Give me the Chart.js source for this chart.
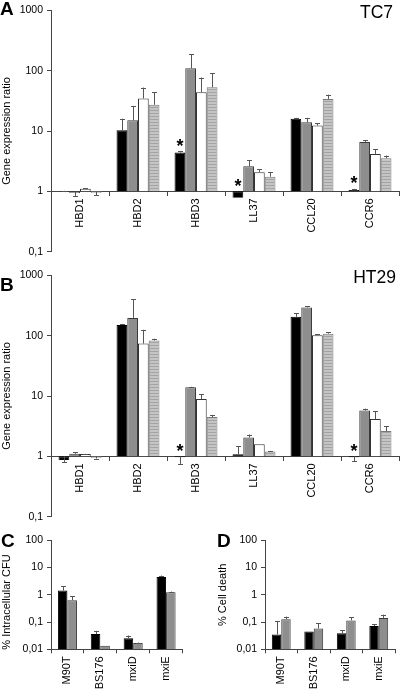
<!DOCTYPE html>
<html><head><meta charset="utf-8">
<script src="https://cdn.jsdelivr.net/npm/chart.js@4.4.0/dist/chart.umd.min.js"></script>
<style>
html,body{margin:0;padding:0;background:#fff;width:400px;height:692px;overflow:hidden;font-family:"Liberation Sans",Arial,sans-serif;}
canvas{position:absolute;display:block;}
.t{position:absolute;line-height:1;white-space:nowrap;color:#000;}
.pl{font-weight:bold;font-size:19px;}
.cl{font-size:17.5px;}
.yt{position:absolute;width:120px;height:12px;line-height:12px;font-size:11px;text-align:center;white-space:nowrap;color:#000;transform:rotate(-90deg);transform-origin:50% 50%;}
</style></head><body>
<canvas id="cA" width="400" height="262" style="left:0;top:0"></canvas>
<canvas id="cB" width="400" height="262" style="left:0;top:265px"></canvas>
<canvas id="cC" width="200" height="162" style="left:0;top:530px"></canvas>
<canvas id="cD" width="200" height="162" style="left:200px;top:530px"></canvas>
<div class="t pl" style="left:0;top:-1px">A</div>
<div class="t cl" style="right:7px;top:3.5px">TC7</div>
<div class="t pl" style="left:0;top:275px">B</div>
<div class="t cl" style="right:4px;top:269px">HT29</div>
<div class="t pl" style="left:1px;top:530.5px">C</div>
<div class="t pl" style="left:217px;top:530.5px">D</div>
<div class="yt" id="cTitle" style="left:-54px;top:596px"></div>
<script>
// ---------- data ----------
const genes = ['HBD1','HBD2','HBD3','LL37','CCL20','CCR6'];
const strains = ['M90T','BS176','mxiD','mxiE'];
const yTicksAB = [0.1, 1, 10, 100, 1000];
const yTickLabelsAB = ['0,1','1','10','100','1000'];
const yTicksCD = [0.01, 0.1, 1, 10, 100];
const yTickLabelsCD = ['0,01','0,1','1','10','100'];
const yTitleAB = 'Gene expression ratio';
const yTitleC = '% Intracellular CFU';
const yTitleD = '% Cell death';

// Panel A: TC7 (bars drawn from ratio 1)
const tc7Black     = [1.01, 10.3, 4.4, 0.78, 15.9, 1.05];
const tc7BlackErr  = [1.02, 16, 4.6, null, 16.5, 1.1];
const tc7Gray      = [0.94, 15, 110, 2.6, 13.9, 6.6];
const tc7GrayErr   = [0.84, 26, 189, 3.26, 16.5, 7.1];
const tc7White     = [1.1, 34.5, 44, 2.08, 12.3, 4.17];
const tc7WhiteErr  = [1.12, 52.5, 77, 2.33, 13.4, 4.97];
const tc7Light     = [0.94, 27.2, 53, 1.75, 34, 3.55];
const tc7LightErr  = [0.87, 44, 90, 2.08, 40, 3.92];
const tc7Stars     = ['HBD3','LL37','CCR6'];

// Panel B: HT29
const ht29Black    = [0.87, 150, 0.97, 1.08, 205, 0.97];
const ht29BlackErr = [0.81, 157, 0.75, 1.47, 235, 0.84];
const ht29Gray     = [1.1, 197, 14, 2.05, 294, 5.73];
const ht29GrayErr  = [1.16, 400, 14.2, 2.3, 308, 6.17];
const ht29White    = [1.09, 74, 8.95, 1.58, 102, 4.15];
const ht29WhiteErr = [1.1, 125, 10.8, null, 105, 5.65];
const ht29Light    = [0.93, 83, 4.47, 1.2, 108, 2.63];
const ht29LightErr = [0.92, 89, 4.86, 1.23, 113, 3.16];
const ht29Stars    = ['HBD3','CCR6'];

// Panel C: % intracellular CFU
const cfuBlack     = [1.43, 0.0362, 0.0257, 4.47];
const cfuBlackErr  = [2.08, 0.0475, 0.032, 5.09];
const cfuGray      = [0.634, 0.0136, 0.0169, 1.245];
const cfuGrayErr   = [0.877, null, 0.0177, 1.31];

// Panel D: % cell death
const deathBlack    = [0.035, 0.0454, 0.0386, 0.072];
const deathBlackErr = [0.107, null, 0.051, 0.083];
const deathGray     = [0.128, 0.058, 0.115, 0.142];
const deathGrayErr  = [0.158, 0.09, 0.15, 0.187];

document.getElementById('cTitle').textContent = yTitleC;

// ---------- styling helpers ----------
const FONT = 'Liberation Sans';
function stripes(canvasId){
  const c = document.createElement('canvas'); c.width = 4; c.height = 3;
  const g = c.getContext('2d');
  g.fillStyle = '#c4c4c4'; g.fillRect(0,0,4,3);
  g.fillStyle = '#a4a4a4'; g.fillRect(0,2,4,1);
  return document.getElementById(canvasId).getContext('2d').createPattern(c,'repeat');
}

const errPlugin = {
  id: 'errbars',
  afterDatasetsDraw(chart){
    const ctx = chart.ctx, ys = chart.scales.y;
    chart.data.datasets.forEach((ds, i) => {
      const meta = chart.getDatasetMeta(i);
      meta.data.forEach((bar, j) => {
        const e = ds.errors ? ds.errors[j] : null;
        let ref = Math.min(bar.y, bar.base);
        if (e != null) {
          const ey = ys.getPixelForValue(e);
          const x = Math.round(bar.x) + 0.5;
          ctx.save();
          ctx.strokeStyle = '#555'; ctx.lineWidth = 1;
          ctx.beginPath();
          ctx.moveTo(x, bar.y); ctx.lineTo(x, ey);
          ctx.moveTo(x - 2.5, Math.round(ey) + 0.5); ctx.lineTo(x + 2.5, Math.round(ey) + 0.5);
          ctx.stroke();
          ctx.restore();
          ref = Math.min(ref, ey);
        }
        if (ds.stars && ds.stars.includes(chart.data.labels[j])) {
          ctx.save();
          ctx.fillStyle = '#000';
          ctx.font = 'bold 18px "' + FONT + '"';
          ctx.textAlign = 'center'; ctx.textBaseline = 'alphabetic';
          ctx.fillText('*', bar.x, ref + 0.5);
          ctx.restore();
        }
      });
    });
  }
};

function makeChart(id, labels, series, o){
  return new Chart(document.getElementById(id), {
    type: 'bar',
    data: {
      labels: labels,
      datasets: series.map(s => ({
        data: s.values.map(v => [o.base, v]),
        errors: s.errors,
        stars: s.stars,
        backgroundColor: s.fill,
        borderColor: s.border,
        borderWidth: 1,
        borderSkipped: 'start',
        categoryPercentage: o.catPct,
        barPercentage: 1
      }))
    },
    options: {
      responsive: false,
      animation: false,
      events: [],
      layout: { padding: o.padding },
      plugins: { legend: { display: false }, tooltip: { enabled: false } },
      scales: {
        x: {
          position: o.xPos,
          offset: true,
          grid: { offset: true, drawOnChartArea: false, drawTicks: true, tickLength: 4, color: '#444' },
          border: { display: true, color: '#444', width: 1 },
          ticks: { minRotation: 90, maxRotation: 90, autoSkip: false, padding: 3, color: '#000',
                   font: { family: FONT, size: 11 } },
          afterFit: s => { s.height = o.xHeight; }
        },
        y: {
          type: 'logarithmic',
          min: o.yTicks[0],
          max: o.yTicks[o.yTicks.length - 1],
          afterBuildTicks: s => { s.ticks = o.yTicks.map(v => ({ value: v })); },
          ticks: { callback: (v, i) => o.yLabels[i], padding: 4, color: '#000', autoSkip: false,
                   font: { family: FONT, size: 10.5 } },
          grid: { drawOnChartArea: false, drawTicks: true, tickLength: 4, color: '#444' },
          border: { display: true, color: '#444', width: 1 },
          title: { display: !!o.yTitle, text: o.yTitle || '', color: '#000',
                   font: { family: FONT, size: 11, lineHeight: 1.1 },
                   padding: { top: o.titlePad, bottom: 0 } },
          afterFit: s => { s.width = o.yWidth; }
        }
      }
    },
    plugins: [errPlugin]
  });
}

function geneSeries(id, b, be, g, ge, w, we, l, le, stars){
  return [
    { values: b, errors: be, fill: '#000000', border: '#000000', stars: stars },
    { values: g, errors: ge, fill: '#8e8e8e', border: '#3a3a3a' },
    { values: w, errors: we, fill: '#ffffff', border: '#333333' },
    { values: l, errors: le, fill: stripes(id), border: '#777777' }
  ];
}

makeChart('cA', genes,
  geneSeries('cA', tc7Black, tc7BlackErr, tc7Gray, tc7GrayErr, tc7White, tc7WhiteErr, tc7Light, tc7LightErr, tc7Stars),
  { base: 1, catPct: 0.74, xPos: { y: 1 }, xHeight: 0, yTicks: yTicksAB, yLabels: yTickLabelsAB,
    yTitle: yTitleAB, titlePad: 1, yWidth: 51,
    padding: { top: 5, bottom: 10, left: 0, right: 1 } });

makeChart('cB', genes,
  geneSeries('cB', ht29Black, ht29BlackErr, ht29Gray, ht29GrayErr, ht29White, ht29WhiteErr, ht29Light, ht29LightErr, ht29Stars),
  { base: 1, catPct: 0.74, xPos: { y: 1 }, xHeight: 0, yTicks: yTicksAB, yLabels: yTickLabelsAB,
    yTitle: yTitleAB, titlePad: 1, yWidth: 51,
    padding: { top: 5.3, bottom: 8.7, left: 0, right: 1 } });

makeChart('cC', strains, [
    { values: cfuBlack, errors: cfuBlackErr, fill: '#000000', border: '#000000' },
    { values: cfuGray, errors: cfuGrayErr, fill: '#8e8e8e', border: '#3a3a3a' }
  ],
  { base: 0.01, catPct: 0.58, xPos: 'bottom', xHeight: 42.7, yTicks: yTicksCD, yLabels: yTickLabelsCD,
    yTitle: null, titlePad: 0, yWidth: 51,
    padding: { top: 6.6, bottom: 0, left: 0, right: 17.5 } });

makeChart('cD', strains, [
    { values: deathBlack, errors: deathBlackErr, fill: '#000000', border: '#000000' },
    { values: deathGray, errors: deathGrayErr, fill: '#8e8e8e', border: '#3a3a3a' }
  ],
  { base: 0.01, catPct: 0.58, xPos: 'bottom', xHeight: 42.7, yTicks: yTicksCD, yLabels: yTickLabelsCD,
    yTitle: yTitleD, titlePad: 17, yWidth: 65,
    padding: { top: 6.6, bottom: 0, left: 0, right: 5 } });
</script>
</body></html>
